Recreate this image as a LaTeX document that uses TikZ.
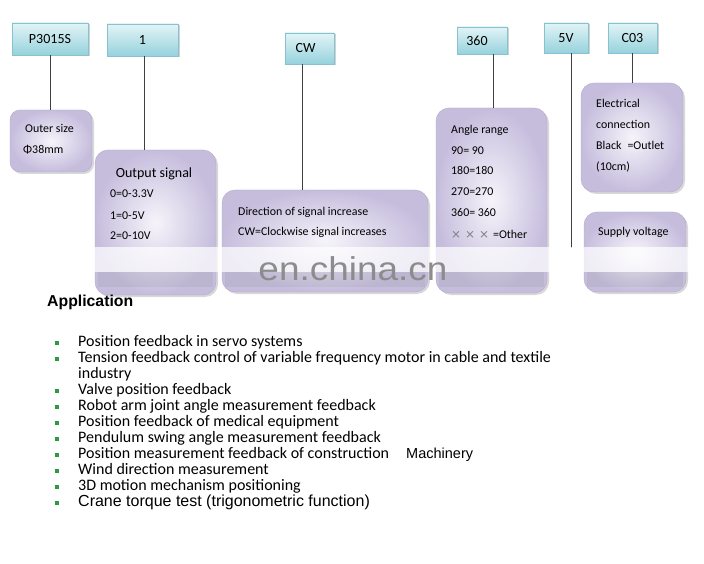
\documentclass[tikz,border=0pt]{standalone}
\usepackage{fontspec}
\setmainfont{Carlito}
\newfontfamily\arial{Liberation Sans}
\newfontfamily\dejavu{DejaVu Sans}
\usetikzlibrary{shadows}
\definecolor{tagTop}{HTML}{E2F4F7}
\definecolor{tagBot}{HTML}{96D2DC}
\definecolor{tagBorder}{HTML}{86C3CE}
\definecolor{purIn}{HTML}{F6F4FA}
\definecolor{purOut}{HTML}{C6BDDD}
\definecolor{purBorder}{HTML}{B3A9CD}
\definecolor{bulletGreen}{HTML}{2E9A48}
\definecolor{wmGrey}{HTML}{8C8C8C}
\begin{document}
\begin{tikzpicture}[x=1pt,y=-1pt,
  tag/.style={draw=tagBorder, line width=0.4pt, top color=tagTop, bottom color=tagBot,
    inner sep=0pt, font=\fontsize{14}{16}\selectfont,
    drop shadow={shadow xshift=1.5pt,shadow yshift=-1.5pt,opacity=0.35}},
  infobox/.style={draw=purBorder, line width=0.4pt, rounded corners=13pt,
    inner color=purIn, outer color=purOut, inner sep=0pt,
    drop shadow={shadow xshift=2pt,shadow yshift=-2pt,opacity=0.3}},
  boxtext/.style={anchor=base west, inner sep=0pt, font=\fontsize{11.9}{13}\selectfont},
  link/.style={draw=black!75, line width=0.6pt},
  item/.style={anchor=base west, inner sep=0pt, font=\fontsize{16}{18}\selectfont},
  bullet/.style={fill=bulletGreen, minimum size=4.5pt, inner sep=0pt},
  reflect/.style={fill=gray, opacity=0.13},
]
\useasboundingbox (0,0) rectangle (704,564);
\fill[white] (0,0) rectangle (704,564);

% top tags
\node[tag, minimum width=76pt, minimum height=32pt] (p3015s) at (50,39) {P3015S};
\node[tag, minimum width=71pt, minimum height=32pt] (one) at (142.5,40) {1};
\node[tag, minimum width=49pt, minimum height=31pt] (cw) at (309.5,48.5) {\hspace*{-8pt}CW};
\node[tag, minimum width=50pt, minimum height=27pt] (t360) at (482,40.5) {\hspace*{-10pt}360};
\node[tag, minimum width=44pt, minimum height=30pt] (t5v) at (566,38) {5V};
\node[tag, minimum width=49pt, minimum height=30pt] (c03) at (632.5,38) {C03};

% info boxes
\node[infobox, minimum width=82pt, minimum height=62pt, rounded corners=10pt] (outer) at (51,141) {};
\node[infobox, minimum width=121pt, minimum height=145pt] (output) at (155.5,222.5) {};
\node[infobox, minimum width=206pt, minimum height=102pt] (direction) at (325,241) {};
\node[infobox, minimum width=111pt, minimum height=185pt] (angle) at (491.5,200.5) {};
\node[infobox, minimum width=102pt, minimum height=109pt] (elec) at (632,137.5) {};
\node[infobox, minimum width=102pt, minimum height=80pt] (supply) at (635,252) {};

% connectors
\coordinate (v5end) at (571,248);
\draw[link] (p3015s.south) -- (p3015s.south |- outer.north);
\draw[link] ([xshift=1.5pt]one.south) -- ([xshift=1.5pt]one.south |- output.north);
\draw[link] ([xshift=-7.5pt]cw.south) -- ([xshift=-7.5pt]cw.south |- direction.north);
\draw[link] ([xshift=11pt]t360.south) -- ([xshift=11pt]t360.south |- angle.north);
\draw[link] ([xshift=5pt]t5v.south) -- (v5end);
\draw[link] (c03.south) -- (c03.south |- elec.north);

% box texts
\node[boxtext] (o1) at (25,133) {Outer size};
\node[boxtext] (o2) at (23,154) {Φ38mm};
\node[anchor=base, inner sep=0pt, font=\fontsize{14}{16}\selectfont] (s0) at (154,178) {Output signal};
\node[boxtext] (s1) at (110,198) {0=0-3.3V};
\node[boxtext] (s2) at (110,219) {1=0-5V};
\node[boxtext] (s3) at (110,240) {2=0-10V};
\node[boxtext] (d1) at (238,215) {Direction of signal increase};
\node[boxtext] (d2) at (238,236) {CW=Clockwise signal increases};
\node[boxtext] (a1) at (451,134) {Angle range};
\node[boxtext] (a2) at (451,155) {90= 90};
\node[boxtext] (a3) at (451,175) {180=180};
\node[boxtext] (a4) at (451,196) {270=270};
\node[boxtext] (a5) at (451,217) {360= 360};
\node[boxtext] (a6) at (451,238) {{\dejavu\color{black!50}×\hspace{4pt}×\hspace{4pt}×}\hspace{4pt}=Other};
\node[boxtext] (e1) at (596,108) {Electrical};
\node[boxtext] (e2) at (596,129) {connection};
\node[boxtext] (e3) at (596,150) {Black\enspace=Outlet};
\node[boxtext] (e4) at (596,171) {(10cm)};
\node[boxtext] (v1) at (598,236) {Supply voltage};

% watermark band
\fill[white, opacity=0.72] (80,247) rectangle (690,272);
\foreach \bx in {output,direction,angle,supply}
  \fill[reflect] ([xshift=3pt]\bx.west |- 0,272) rectangle ([xshift=-3pt]\bx.east |- 0,287);
\node[anchor=base, inner sep=0pt, font=\arial\fontsize{33}{36}\selectfont, text=wmGrey, xscale=1.12] (wm) at (353,280) {en.china.cn};

% application
\node[anchor=base west, inner sep=0pt, font=\arial\bfseries\fontsize{15.8}{18}\selectfont] (apphead) at (47,306) {Application};

\node[item] (i1) at (78,346) {Position feedback in servo systems};
\node[item] (i2) at (78,362) {Tension feedback control of variable frequency motor in cable and textile};
\node[item] (i2b) at (78,378) {industry};
\node[item] (i3) at (78,394) {Valve position feedback};
\node[item] (i4) at (78,410) {Robot arm joint angle measurement feedback};
\node[item] (i5) at (78,426) {Position feedback of medical equipment};
\node[item] (i6) at (78,442) {Pendulum swing angle measurement feedback};
\node[item] (i7) at (78,458) {Position measurement feedback of construction};
\node[anchor=base west, inner sep=0pt, font=\arial\fontsize{14.5}{16}\selectfont] (i7b) at (406,458) {Machinery};
\node[item] (i8) at (78,474) {Wind direction measurement};
\node[item] (i9) at (78,490) {3D motion mechanism positioning};
\node[anchor=base west, inner sep=0pt, font=\arial\fontsize{16}{18}\selectfont] (i10) at (78,506) {Crane torque test (trigonometric function)};

\foreach \yy/\nm in {343/b1,359/b2,391/b3,407/b4,423/b5,439/b6,455/b7,471/b8,487/b9,503/b10}
  \node[bullet] (\nm) at (57,\yy) {};
\end{tikzpicture}
\end{document}
